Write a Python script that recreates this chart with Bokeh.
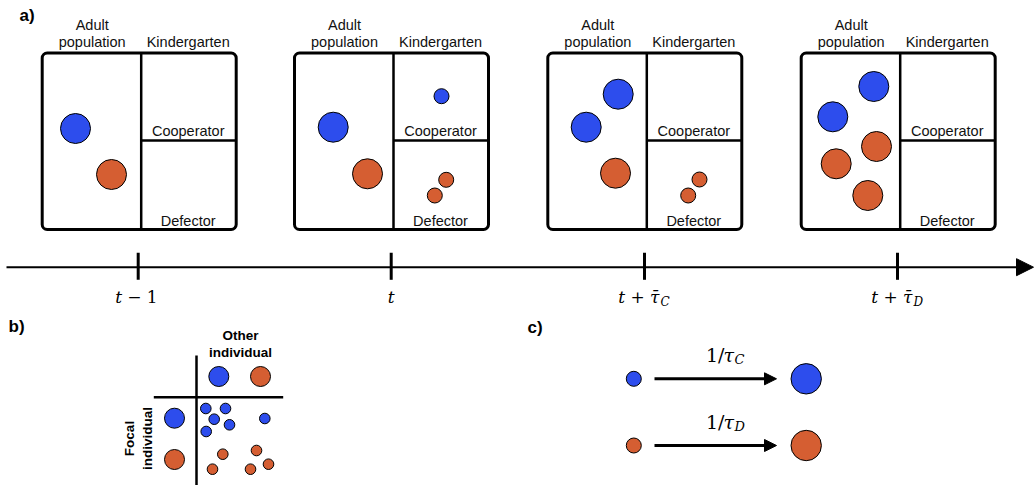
import numpy as np
from bokeh.plotting import figure
from bokeh.models import Range1d, Arrow, NormalHead
from bokeh.core.properties import value
from bokeh.embed import file_html
from bokeh.resources import INLINE

BLUE = "#2d4ded"
ORANGE = "#d55e32"

# ---------------- panel a data ----------------
box_left = [41.7, 294.0, 547.3, 800.7]
box_width = 194.0
box_top = 52.5
box_bottom = 229.0
box_split = 99.0
box_mid_y = 140.0

# adult (large) individuals per time step
adult_x = [75, 111, 332.7, 367, 617.7, 585.7, 615, 873.3, 832.3, 876, 835.7, 867.3]
adult_y = [128, 174, 126.7, 173.3, 93.7, 126.7, 172.7, 86, 116.3, 146, 163.3, 195]
adult_c = ["C", "D", "C", "D", "C", "C", "D", "C", "C", "D", "D", "D"]
# juvenile (kindergarten) individuals
kid_x = [441, 445.7, 434.3, 699, 687.7]
kid_y = [95.7, 179.3, 195, 179, 195]
kid_c = ["C", "D", "D", "D", "D"]

time_ticks = [137.7, 390.7, 644.0, 897.0]
time_main = ["t", "t", "t + τ̄", "t + τ̄"]
time_rest = ["− 1", "", "", ""]
time_sub = ["", "", "C", "D"]

# ---------------- panel b data ----------------
head_x = [218.3, 260, 174, 174]
head_y = [376, 376, 417.7, 459]
head_c = ["C", "D", "C", "D"]
off_x = [205.3, 225, 213.7, 229, 205.7, 264.3, 222.3, 212, 256, 268, 250]
off_y = [408, 408, 418.7, 424.3, 431, 418, 453.7, 468.7, 450, 463.7, 468.7]
off_c = ["C", "C", "C", "C", "C", "C", "D", "D", "D", "D", "D"]

# ---------------- panel c data ----------------
grow_y = [378.3, 445.0]
grow_c = ["C", "D"]
grow_sub = ["C", "D"]

col = {"C": BLUE, "D": ORANGE}

W, H = 1034, 485
p = figure(width=W, height=H, x_range=Range1d(0, W), y_range=Range1d(H, 0),
           output_backend="svg", toolbar_location=None, min_border=0,
           x_axis_location=None, y_axis_location=None)
p.grid.visible = False
p.outline_line_color = None
p.background_fill_color = "white"

SANS = value("Liberation Sans")
SERIF = value("DejaVu Serif")

# boxes
L = np.array(box_left)
p.quad(left=L, right=L + box_width, top=[box_top] * 4, bottom=[box_bottom] * 4,
       fill_color=None, line_color="black", line_width=3, border_radius=5)
p.segment(x0=L + box_split, y0=[box_top] * 4, x1=L + box_split, y1=[box_bottom] * 4,
          line_color="black", line_width=2.5)
p.segment(x0=L + box_split, y0=[box_mid_y] * 4, x1=L + box_width, y1=[box_mid_y] * 4,
          line_color="black", line_width=2.5)

p.circle(x=adult_x, y=adult_y, radius=15, fill_color=[col[c] for c in adult_c],
         line_color="black", line_width=1)
p.circle(x=kid_x, y=kid_y, radius=7.5, fill_color=[col[c] for c in kid_c],
         line_color="black", line_width=1)

for lx in box_left:
    p.text(x=[lx + 50, lx + 50, lx + 146, lx + 146, lx + 146],
           y=[24, 41, 41, 130, 220],
           text=["Adult", "population", "Kindergarten", "Cooperator", "Defector"],
           text_font=SANS, text_font_size="14.5px", text_align="center",
           text_baseline="middle", text_color="#111111")

# timeline
p.add_layout(Arrow(end=NormalHead(size=17, fill_color="black", line_color="black"),
                   x_start=6, y_start=266.7, x_end=1033, y_end=266.7,
                   line_width=2, line_color="black"))
p.segment(x0=time_ticks, y0=[252.3] * 4, x1=time_ticks, y1=[279.3] * 4,
          line_color="black", line_width=3)
for tx, m, r, s in zip(time_ticks, time_main, time_rest, time_sub):
    if s:
        p.text(x=[tx + 15], y=[296], text=[m], text_font=SERIF, text_font_style="italic",
               text_font_size="17px", text_align="right", text_baseline="middle")
        p.text(x=[tx + 16], y=[301], text=[s], text_font=SERIF, text_font_style="italic",
               text_font_size="12px", text_align="left", text_baseline="middle")
    elif r:
        p.text(x=[tx - 16], y=[296], text=[m], text_font=SERIF, text_font_style="italic",
               text_font_size="17px", text_align="right", text_baseline="middle")
        p.text(x=[tx - 11], y=[296], text=[r], text_font=SERIF,
               text_font_size="17px", text_align="left", text_baseline="middle")
    else:
        p.text(x=[tx], y=[296], text=[m], text_font=SERIF, text_font_style="italic",
               text_font_size="17px", text_align="center", text_baseline="middle")

# panel labels
p.text(x=[19, 8, 527], y=[15, 326, 327], text=["a)", "b)", "c)"], text_font=SANS,
       text_font_style="bold", text_font_size="17px", text_align="left",
       text_baseline="middle")

# panel b
p.segment(x0=[196, 153.3], y0=[355, 396.7], x1=[196, 282.7], y1=[485, 396.7],
          line_color="black", line_width=2.5)
p.circle(x=head_x, y=head_y, radius=10, fill_color=[col[c] for c in head_c],
         line_color="black", line_width=1)
p.circle(x=off_x, y=off_y, radius=5.3, fill_color=[col[c] for c in off_c],
         line_color="black", line_width=1)
p.text(x=[240, 240], y=[335, 352], text=["Other", "individual"], text_font=SANS,
       text_font_style="bold", text_font_size="13.5px", text_align="center",
       text_baseline="middle")
p.text(x=[129.3, 146.7], y=[438, 438], text=["Focal", "individual"], text_font=SANS,
       text_font_style="bold", text_font_size="13.5px", text_align="center",
       text_baseline="middle", angle=np.pi / 2)

# panel c
p.circle(x=[633.3] * 2, y=grow_y, radius=7.5, fill_color=[col[c] for c in grow_c],
         line_color="black", line_width=1)
p.circle(x=[805.7] * 2, y=grow_y, radius=15.2, fill_color=[col[c] for c in grow_c],
         line_color="black", line_width=1)
for gy, s in zip(grow_y, grow_sub):
    p.add_layout(Arrow(end=NormalHead(size=12, fill_color="black", line_color="black"),
                       x_start=654, y_start=gy, x_end=776, y_end=gy,
                       line_width=3, line_color="black"))
    p.text(x=[724], y=[gy - 24], text=["1/"], text_font=SERIF,
           text_font_size="19px", text_align="right", text_baseline="middle")
    p.text(x=[723], y=[gy - 24], text=["τ"], text_font=SERIF, text_font_style="italic",
           text_font_size="19px", text_align="left", text_baseline="middle")
    p.text(x=[734], y=[gy - 19], text=[s], text_font=SERIF, text_font_style="italic",
           text_font_size="13px", text_align="left", text_baseline="middle")

open("out.html", "w").write(file_html(p, INLINE))
